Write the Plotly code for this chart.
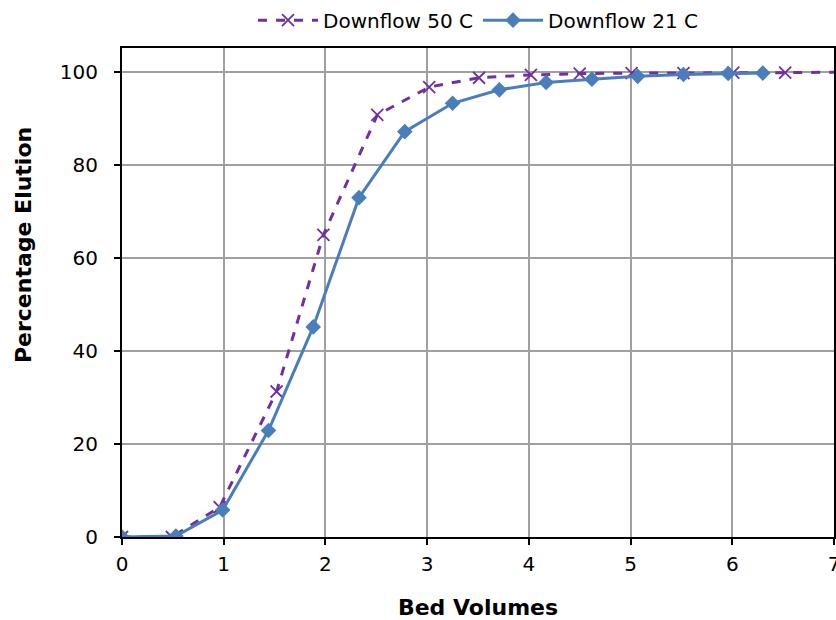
import plotly.graph_objects as go

bv_21 = [0, 0.53, 0.99, 1.44, 1.88, 2.33, 2.78, 3.25, 3.71, 4.17, 4.62, 5.07, 5.52, 5.96, 6.30]
el_21 = [0, 0.2, 5.8, 22.9, 45.2, 73.0, 87.2, 93.3, 96.2, 97.8, 98.5, 99.1, 99.5, 99.7, 99.8]

bv_50 = [0, 0.49, 0.96, 1.52, 1.98, 2.51, 3.02, 3.51, 4.02, 4.50, 5.01, 5.52, 6.01, 6.52, 7.1]
el_50 = [0, 0.0, 6.4, 31.3, 65.0, 90.8, 96.8, 98.8, 99.4, 99.7, 99.8, 99.8, 99.9, 99.9, 100.0]

x_ticks = [0, 1, 2, 3, 4, 5, 6, 7]
y_ticks = [0, 20, 40, 60, 80, 100]

font_family = "DejaVu Sans"

fig = go.Figure()
fig.add_trace(go.Scatter(
    x=bv_50, y=el_50, name="Downflow 50 C", mode="lines+markers",
    line=dict(color="#7030A0", width=3, dash="dash"),
    marker=dict(symbol="x-thin", size=12, line=dict(color="#7030A0", width=1.8), color="#7030A0"),
))
fig.add_trace(go.Scatter(
    x=bv_21, y=el_21, name="Downflow 21 C", mode="lines+markers",
    line=dict(color="#4A7EBB", width=3),
    marker=dict(symbol="diamond", size=12, color="#4A7EBB"),
))

fig.update_layout(
    width=836, height=620,
    margin=dict(l=122, r=2, t=48, b=83, autoexpand=False),
    paper_bgcolor="white", plot_bgcolor="white",
    font=dict(family=font_family, size=20, color="black"),
    showlegend=True,
    legend=dict(orientation="h", x=0.5, xanchor="center", y=1.057, yanchor="middle",
                font=dict(size=20), bgcolor="rgba(0,0,0,0)", itemwidth=60,
                tracegroupgap=0),
    xaxis=dict(
        range=[0, 7], tickvals=x_ticks, showgrid=True, gridcolor="#a0a0a0", gridwidth=2,
        showline=True, linecolor="black", linewidth=2, mirror=True, automargin=False,
        ticks="outside", ticklen=6, tickcolor="black", tickwidth=2, zeroline=False,
        ticklabelstandoff=2, ticklabeloverflow="allow",
        title=dict(text="<b>Bed Volumes</b>", font=dict(size=22), standoff=33),
    ),
    yaxis=dict(
        range=[0, 105.2], tickvals=y_ticks, showgrid=True, gridcolor="#a0a0a0", gridwidth=2,
        showline=True, linecolor="black", linewidth=2, mirror=True, automargin=False,
        ticks="outside", ticklen=6, tickcolor="black", tickwidth=2, zeroline=False,
        ticklabelstandoff=12,
    ),
    annotations=[dict(
        text="<b>Percentage Elution</b>", textangle=-90, font=dict(size=22),
        xref="paper", yref="paper", x=-0.139, y=0.597,
        xanchor="center", yanchor="middle", showarrow=False,
    )],
)

fig.write_html(
    "out.html",
    config={"displayModeBar": False},
    post_script="document.body.style.margin='0';document.body.style.overflow='hidden';",
)
